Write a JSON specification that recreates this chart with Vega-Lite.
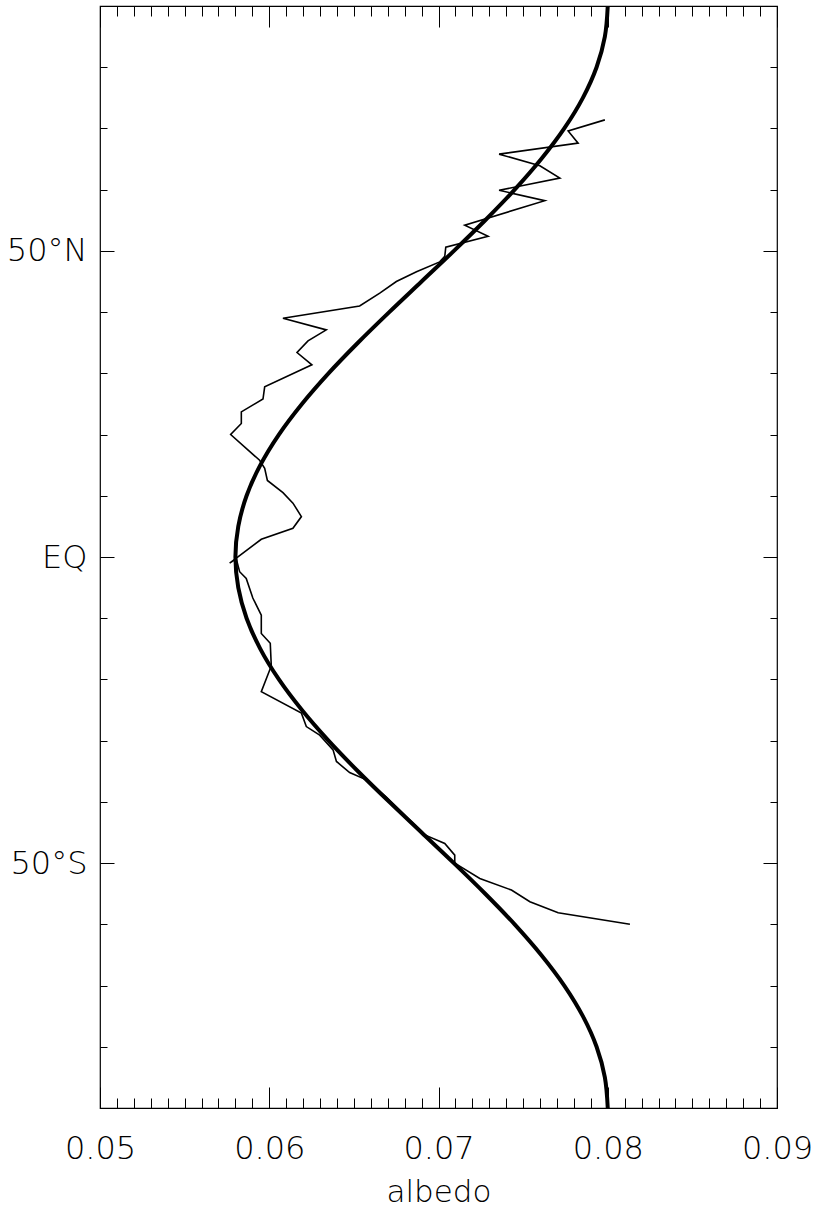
{
  "$schema": "https://vega.github.io/schema/vega-lite/v6.json",
  "width": 677,
  "height": 1102,
  "autosize": {"type": "none"},
  "padding": {"left": 100, "top": 6, "right": 40, "bottom": 103},
  "background": "white",
  "config": {
    "view": {"stroke": "black", "strokeWidth": 1.2},
    "axis": {"domain": false, "grid": false, "tickColor": "black", "tickWidth": 1, "labelColor": "black", "titleColor": "black",
             "labelFont": "DejaVu Sans", "titleFont": "DejaVu Sans", "labelFontWeight": 200, "titleFontWeight": 200}
  },
  "datasets": {
    "fit": [
      {"lat": -90, "albedo": 0.08000}, {"lat": -85, "albedo": 0.07983}, {"lat": -80, "albedo": 0.07934},
      {"lat": -75, "albedo": 0.07853}, {"lat": -70, "albedo": 0.07743}, {"lat": -65, "albedo": 0.07607},
      {"lat": -60, "albedo": 0.07450}, {"lat": -55, "albedo": 0.07276}, {"lat": -50, "albedo": 0.07091},
      {"lat": -45, "albedo": 0.06900}, {"lat": -40, "albedo": 0.06709}, {"lat": -35, "albedo": 0.06524},
      {"lat": -30, "albedo": 0.06350}, {"lat": -25, "albedo": 0.06193}, {"lat": -20, "albedo": 0.06057},
      {"lat": -15, "albedo": 0.05947}, {"lat": -10, "albedo": 0.05866}, {"lat": -5, "albedo": 0.05817},
      {"lat": 0, "albedo": 0.05800}, {"lat": 5, "albedo": 0.05817}, {"lat": 10, "albedo": 0.05866},
      {"lat": 15, "albedo": 0.05947}, {"lat": 20, "albedo": 0.06057}, {"lat": 25, "albedo": 0.06193},
      {"lat": 30, "albedo": 0.06350}, {"lat": 35, "albedo": 0.06524}, {"lat": 40, "albedo": 0.06709},
      {"lat": 45, "albedo": 0.06900}, {"lat": 50, "albedo": 0.07091}, {"lat": 55, "albedo": 0.07276},
      {"lat": 60, "albedo": 0.07450}, {"lat": 65, "albedo": 0.07607}, {"lat": 70, "albedo": 0.07743},
      {"lat": 75, "albedo": 0.07853}, {"lat": 80, "albedo": 0.07934}, {"lat": 85, "albedo": 0.07983},
      {"lat": 90, "albedo": 0.08000}
    ],
    "obs": [
      {"i": 1, "lat": 71.4, "albedo": 0.07983}, {"i": 2, "lat": 69.6, "albedo": 0.07766},
      {"i": 3, "lat": 67.6, "albedo": 0.07825}, {"i": 4, "lat": 65.8, "albedo": 0.07358},
      {"i": 5, "lat": 63.9, "albedo": 0.07599}, {"i": 6, "lat": 61.9, "albedo": 0.07717},
      {"i": 7, "lat": 59.9, "albedo": 0.07358}, {"i": 8, "lat": 58.2, "albedo": 0.07628},
      {"i": 9, "lat": 54.2, "albedo": 0.07155}, {"i": 10, "lat": 52.4, "albedo": 0.07293},
      {"i": 11, "lat": 50.6, "albedo": 0.07043}, {"i": 12, "lat": 49.1, "albedo": 0.07037},
      {"i": 13, "lat": 48.2, "albedo": 0.07007}, {"i": 14, "lat": 46.6, "albedo": 0.06870},
      {"i": 15, "lat": 45.0, "albedo": 0.06751}, {"i": 16, "lat": 43.1, "albedo": 0.06653},
      {"i": 17, "lat": 41.0, "albedo": 0.06534}, {"i": 18, "lat": 39.0, "albedo": 0.06081},
      {"i": 19, "lat": 37.1, "albedo": 0.06337}, {"i": 20, "lat": 35.3, "albedo": 0.06229},
      {"i": 21, "lat": 33.4, "albedo": 0.06164}, {"i": 22, "lat": 31.4, "albedo": 0.06252},
      {"i": 23, "lat": 27.8, "albedo": 0.05973}, {"i": 24, "lat": 25.8, "albedo": 0.05963},
      {"i": 25, "lat": 23.7, "albedo": 0.05835}, {"i": 26, "lat": 21.8, "albedo": 0.05835},
      {"i": 27, "lat": 20.0, "albedo": 0.05772}, {"i": 28, "lat": 15.8, "albedo": 0.05943},
      {"i": 29, "lat": 14.5, "albedo": 0.05973}, {"i": 30, "lat": 12.5, "albedo": 0.05989},
      {"i": 31, "lat": 10.5, "albedo": 0.06081}, {"i": 32, "lat": 8.8, "albedo": 0.06140},
      {"i": 33, "lat": 6.6, "albedo": 0.06190}, {"i": 34, "lat": 4.7, "albedo": 0.06140},
      {"i": 35, "lat": 2.9, "albedo": 0.05953}, {"i": 36, "lat": -1.0, "albedo": 0.05766},
      {"i": 37, "lat": -0.3, "albedo": 0.05805}, {"i": 38, "lat": -2.4, "albedo": 0.05825},
      {"i": 39, "lat": -3.5, "albedo": 0.05864}, {"i": 40, "lat": -6.7, "albedo": 0.05903},
      {"i": 41, "lat": -9.5, "albedo": 0.05953}, {"i": 42, "lat": -12.5, "albedo": 0.05953},
      {"i": 43, "lat": -14.1, "albedo": 0.06006}, {"i": 44, "lat": -17.8, "albedo": 0.06012},
      {"i": 45, "lat": -22.0, "albedo": 0.05953}, {"i": 46, "lat": -25.5, "albedo": 0.06190},
      {"i": 47, "lat": -27.7, "albedo": 0.06219}, {"i": 48, "lat": -29.1, "albedo": 0.06298},
      {"i": 49, "lat": -31.5, "albedo": 0.06377}, {"i": 50, "lat": -33.4, "albedo": 0.06397},
      {"i": 51, "lat": -35.2, "albedo": 0.06475}, {"i": 52, "lat": -36.4, "albedo": 0.06574},
      {"i": 53, "lat": -39.2, "albedo": 0.06692}, {"i": 54, "lat": -42.1, "albedo": 0.06800},
      {"i": 55, "lat": -45.4, "albedo": 0.06919}, {"i": 56, "lat": -46.8, "albedo": 0.07037},
      {"i": 57, "lat": -48.7, "albedo": 0.07096}, {"i": 58, "lat": -50.0, "albedo": 0.07096},
      {"i": 59, "lat": -52.5, "albedo": 0.07244}, {"i": 60, "lat": -54.4, "albedo": 0.07431},
      {"i": 61, "lat": -56.3, "albedo": 0.07540}, {"i": 62, "lat": -58.1, "albedo": 0.07707},
      {"i": 63, "lat": -60.0, "albedo": 0.08131}
    ]
  },
  "layer": [
    {
      "data": {"name": "fit"},
      "mark": {"type": "line", "color": "black", "strokeWidth": 4, "interpolate": "catmull-rom"},
      "encoding": {
        "x": {"field": "albedo", "type": "quantitative", "scale": {"domain": [0.05, 0.09], "nice": false, "zero": false},
              "axis": {"orient": "bottom", "values": [0.05, 0.06, 0.07, 0.08, 0.09], "format": ".2f", "ticks": false,
                       "labelFontSize": 32, "labelPadding": 25, "labelFlush": false, "labelOverlap": false,
                       "title": "albedo", "titleFontSize": 31, "titlePadding": 13}},
        "y": {"field": "lat", "type": "quantitative", "scale": {"domain": [-90, 90], "nice": false, "zero": false},
              "axis": {"orient": "left", "values": [-50, 0, 50], "ticks": false, "labelFontSize": 32, "labelPadding": 13,
                       "labelFlush": false, "labelOverlap": false, "labelBaseline": "middle",
                       "labelExpr": "datum.value == 50 ? '50°N' : (datum.value == 0 ? 'EQ' : '50°S')", "title": null}},
        "order": {"field": "lat", "type": "quantitative"}
      }
    },
    {
      "data": {"name": "obs"},
      "mark": {"type": "line", "color": "black", "strokeWidth": 1.6},
      "encoding": {
        "x": {"field": "albedo", "type": "quantitative", "scale": {"domain": [0.05, 0.09], "nice": false, "zero": false},
              "axis": {"orient": "bottom", "labels": false, "title": null,
                       "values": [0.05,0.051,0.052,0.053,0.054,0.055,0.056,0.057,0.058,0.059,0.06,0.061,0.062,0.063,0.064,0.065,0.066,0.067,0.068,0.069,0.07,0.071,0.072,0.073,0.074,0.075,0.076,0.077,0.078,0.079,0.08,0.081,0.082,0.083,0.084,0.085,0.086,0.087,0.088,0.089,0.09],
                       "tickSize": {"condition": {"test": "abs(datum.value*100 - round(datum.value*100)) < 0.01", "value": -21}, "value": -10}}},
        "y": {"field": "lat", "type": "quantitative", "scale": {"domain": [-90, 90], "nice": false, "zero": false},
              "axis": {"orient": "left", "labels": false, "title": null,
                       "values": [-90,-80,-70,-60,-50,-40,-30,-20,-10,0,10,20,30,40,50,60,70,80,90],
                       "tickSize": {"condition": {"test": "datum.value == 50 || datum.value == 0 || datum.value == -50", "value": -14}, "value": -7}}},
        "order": {"field": "i", "type": "quantitative"}
      }
    },
    {
      "data": {"name": "fit"},
      "mark": {"type": "point", "opacity": 0},
      "encoding": {
        "x": {"field": "albedo", "type": "quantitative", "scale": {"domain": [0.05, 0.09], "nice": false, "zero": false},
              "axis": {"orient": "top", "labels": false, "title": null,
                       "values": [0.05,0.051,0.052,0.053,0.054,0.055,0.056,0.057,0.058,0.059,0.06,0.061,0.062,0.063,0.064,0.065,0.066,0.067,0.068,0.069,0.07,0.071,0.072,0.073,0.074,0.075,0.076,0.077,0.078,0.079,0.08,0.081,0.082,0.083,0.084,0.085,0.086,0.087,0.088,0.089,0.09],
                       "tickSize": {"condition": {"test": "abs(datum.value*100 - round(datum.value*100)) < 0.01", "value": -21}, "value": -10}}},
        "y": {"field": "lat", "type": "quantitative", "scale": {"domain": [-90, 90], "nice": false, "zero": false},
              "axis": {"orient": "right", "labels": false, "title": null,
                       "values": [-90,-80,-70,-60,-50,-40,-30,-20,-10,0,10,20,30,40,50,60,70,80,90],
                       "tickSize": {"condition": {"test": "datum.value == 50 || datum.value == 0 || datum.value == -50", "value": -14}, "value": -7}}}
      }
    }
  ],
  "resolve": {"axis": {"x": "independent", "y": "independent"}}
}
